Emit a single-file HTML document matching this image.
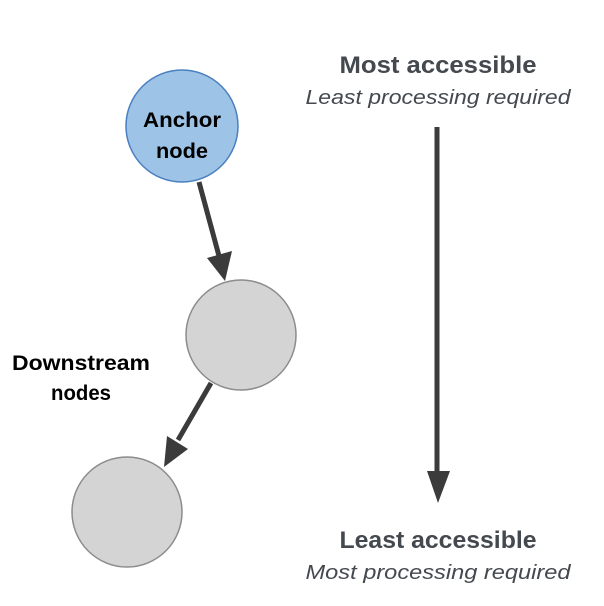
<!DOCTYPE html>
<html><head><style>body{margin:0;background:#fff}</style></head><body>
<svg width="604" height="606" xmlns="http://www.w3.org/2000/svg" style="display:block">
<circle cx="182" cy="126" r="56" fill="#9dc3e6" stroke="#4a7fc0" stroke-width="1.5"/>
<circle cx="241" cy="335" r="55" fill="#d4d4d4" stroke="#8c8c8c" stroke-width="1.5"/>
<circle cx="127" cy="512" r="55" fill="#d4d4d4" stroke="#8c8c8c" stroke-width="1.5"/>
<g font-family="Liberation Sans, sans-serif" font-weight="bold" font-size="21" fill="#000" text-anchor="middle">
<text x="182" y="127" textLength="78" lengthAdjust="spacingAndGlyphs">Anchor</text>
<text x="182" y="158" textLength="52" lengthAdjust="spacingAndGlyphs">node</text>
<text x="81" y="370" textLength="138" lengthAdjust="spacingAndGlyphs">Downstream</text>
<text x="81" y="400" textLength="60" lengthAdjust="spacingAndGlyphs">nodes</text>
</g>
<g stroke="#3b3b3b" stroke-width="5" fill="#3b3b3b">
<line x1="199" y1="182" x2="219" y2="256"/>
<line x1="211" y1="383" x2="178" y2="440"/>
<line x1="437" y1="127" x2="437" y2="475"/>
</g>
<g fill="#3b3b3b">
<polygon points="225,281 207,258 232,251"/>
<polygon points="164,467 167,436 188,449"/>
<polygon points="438,503 427,471 450,471"/>
</g>
<g font-family="Liberation Sans, sans-serif" fill="#44494f" text-anchor="middle">
<text x="438" y="73" font-size="24" font-weight="bold" textLength="197" lengthAdjust="spacingAndGlyphs">Most accessible</text>
<text x="438" y="104" font-size="20" font-style="italic" textLength="265" lengthAdjust="spacingAndGlyphs">Least processing required</text>
<text x="438" y="548" font-size="24" font-weight="bold" textLength="197" lengthAdjust="spacingAndGlyphs">Least accessible</text>
<text x="438" y="579" font-size="20" font-style="italic" textLength="265" lengthAdjust="spacingAndGlyphs">Most processing required</text>
</g>
</svg>
</body></html>
